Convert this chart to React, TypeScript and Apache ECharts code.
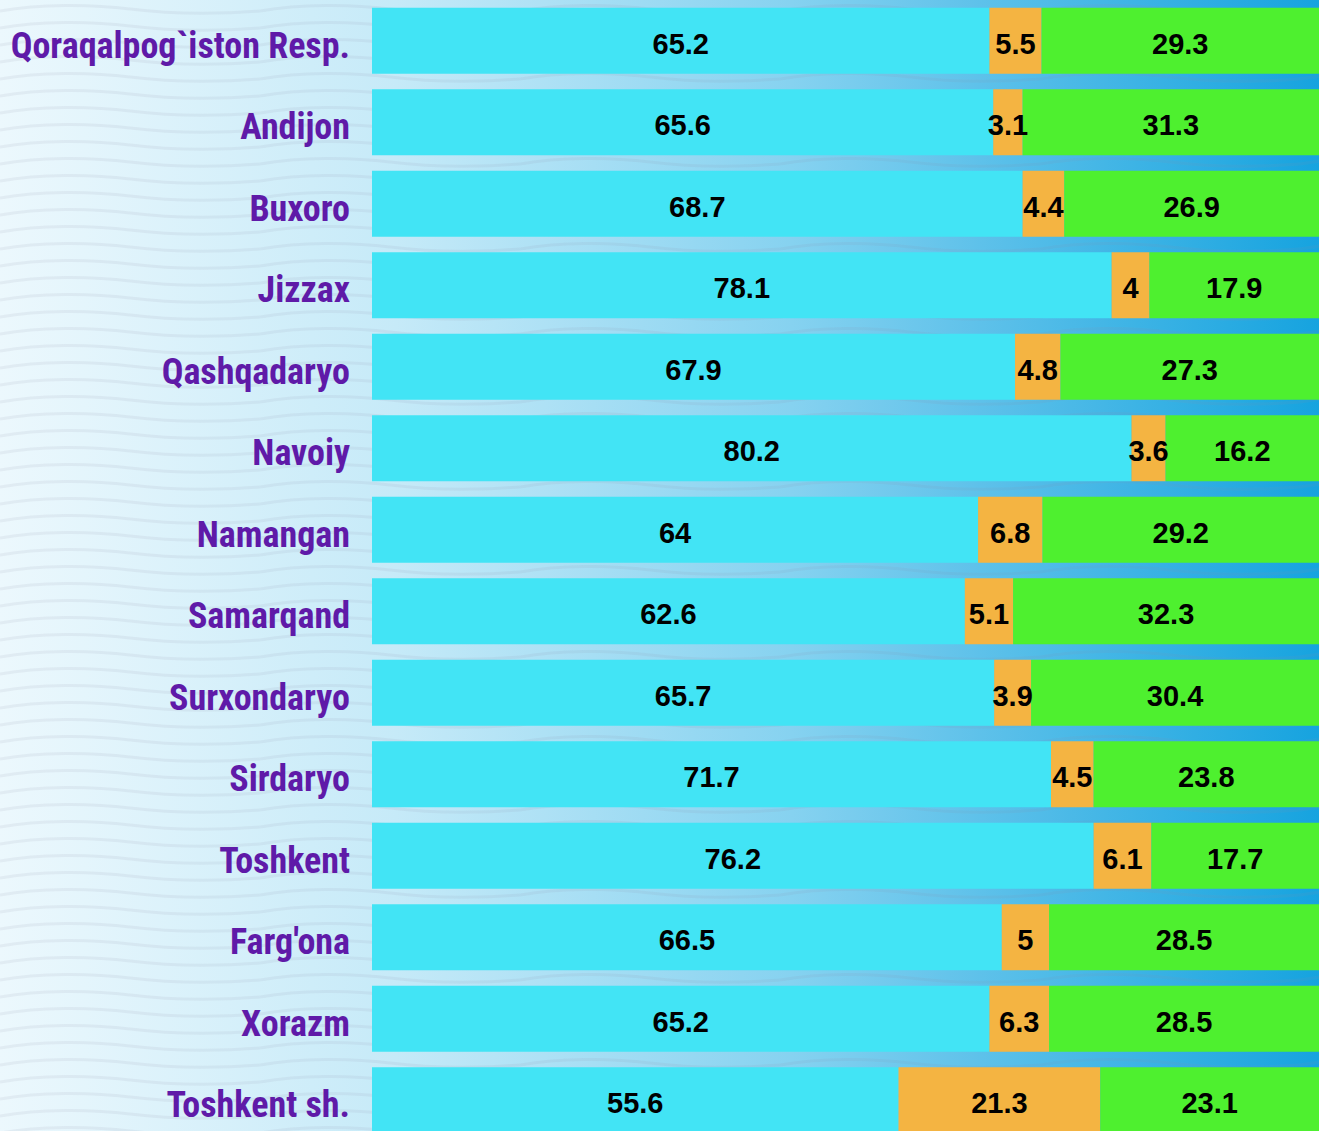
import React, { useEffect, useRef } from "react";
import * as echarts from "echarts";

const categories = [
  "Qoraqalpog`iston Resp.",
  "Andijon",
  "Buxoro",
  "Jizzax",
  "Qashqadaryo",
  "Navoiy",
  "Namangan",
  "Samarqand",
  "Surxondaryo",
  "Sirdaryo",
  "Toshkent",
  "Farg'ona",
  "Xorazm",
  "Toshkent sh.",
];
const seriesA = [65.2, 65.6, 68.7, 78.1, 67.9, 80.2, 64, 62.6, 65.7, 71.7, 76.2, 66.5, 65.2, 55.6];
const seriesB = [5.5, 3.1, 4.4, 4, 4.8, 3.6, 6.8, 5.1, 3.9, 4.5, 6.1, 5, 6.3, 21.3];
const seriesC = [29.3, 31.3, 26.9, 17.9, 27.3, 16.2, 29.2, 32.3, 30.4, 23.8, 17.7, 28.5, 28.5, 23.1];
const seriesNames = ["1-guruh", "2-guruh", "3-guruh"];
const colors = ["#42e4f5", "#f4b442", "#4ef02f"];

const waveSvg =
  "data:image/svg+xml;utf8," +
  encodeURIComponent(
    '<svg xmlns="http://www.w3.org/2000/svg" width="260" height="17"><path d="M0 11 C40 4 90 4 130 9 C170 14 220 14 260 11" fill="none" stroke="rgba(140,140,160,0.11)" stroke-width="3"/></svg>'
  );

export default function App() {
  const ref = useRef<HTMLDivElement>(null);
  useEffect(() => {
    if (!ref.current) return;
    const chart = echarts.init(ref.current, null, { renderer: "svg" });
    const mk = (name: string, data: number[], color: string) => ({
      name,
      type: "bar",
      stack: "total",
      data,
      barWidth: 66,
      itemStyle: { color },
      label: {
        show: true,
        position: "inside",
        offset: [0, 3],
        color: "#000",
        fontFamily: "'Liberation Sans', Arial, sans-serif",
        fontWeight: "bold",
        fontSize: 29,
      },
    });
    chart.setOption({
      animation: false,
      backgroundColor: "transparent",
      grid: { left: 372, top: 0, width: 950, bottom: 0, containLabel: false },
      xAxis: { type: "value", min: 0, max: 100, show: false },
      yAxis: {
        type: "category",
        data: categories,
        inverse: true,
        axisLine: { show: false },
        axisTick: { show: false },
        splitLine: { show: false },
        axisLabel: {
          margin: 22,
          color: "#5f1aa8",
          fontFamily: "'Roboto Condensed', 'Liberation Sans Narrow', 'DejaVu Sans Condensed', Roboto, sans-serif",
          fontWeight: "bold",
          fontSize: 36,
          verticalAlign: "top",
          lineHeight: 10,
        },
      },
      series: [
        mk(seriesNames[0], seriesA, colors[0]),
        mk(seriesNames[1], seriesB, colors[1]),
        mk(seriesNames[2], seriesC, colors[2]),
      ],
    });
    return () => chart.dispose();
  }, []);
  return (
    <div
      style={{
        position: "absolute",
        left: 0,
        top: 0,
        width: 1319,
        height: 1131,
        overflow: "hidden",
        backgroundImage: `url("${waveSvg}"), linear-gradient(to right, #ecf8fd 0%, #c6eaf8 30%, #86d2f0 60%, #16a3df 100%)`,
        backgroundRepeat: "repeat, no-repeat",
      }}
    >
      <div ref={ref} style={{ width: 1319, height: 1141 }} />
    </div>
  );
}
